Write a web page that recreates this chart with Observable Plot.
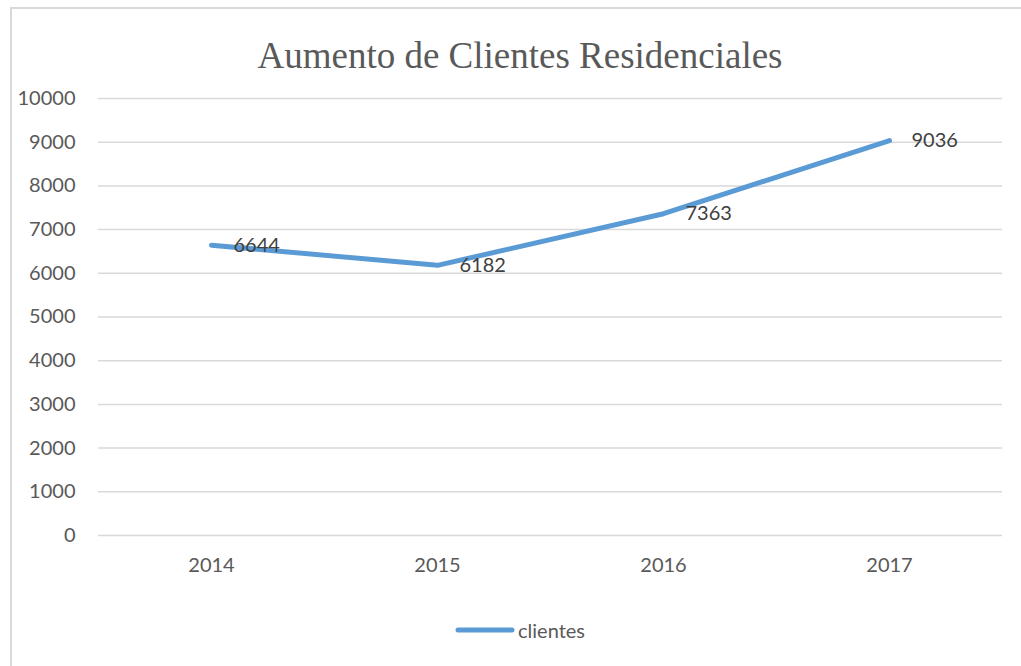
<!DOCTYPE html>
<html>
<head>
<meta charset="utf-8">
<script src="https://cdn.jsdelivr.net/npm/d3@7"></script>
<script src="https://cdn.jsdelivr.net/npm/@observablehq/plot@0.6"></script>
<style>
  html, body { margin: 0; padding: 0; background: #fff; overflow: hidden; }
  #wrap { position: relative; width: 1021px; height: 666px; overflow: hidden; }
  #frame { position: absolute; left: 10px; top: 7px; width: 1040px; height: 700px; border: 2px solid #d9d9d9; box-sizing: border-box; }
  #title { position: absolute; left: 0; width: 1040px; top: 37px; text-align: center; font-family: "Liberation Serif", serif; font-size: 37px; line-height: 37px; color: #595959; white-space: nowrap; }
  #legend { position: absolute; left: 455px; top: 618px; font-family: Lato, sans-serif; font-size: 20px; color: #595959; display: flex; align-items: center; }
  #legend svg { margin-right: 3px; }
  #chart { position: absolute; left: 0; top: 0; }
</style>
</head>
<body>
<div id="wrap">
  <div id="frame"></div>
  <div id="chart"></div>
  <div id="title">Aumento de Clientes Residenciales</div>
  <div id="legend"><svg width="60" height="10"><line x1="3" y1="5" x2="57" y2="5" stroke="#5B9BD5" stroke-width="5" stroke-linecap="round"/></svg><span>clientes</span></div>
</div>
<script>
const years = ["2014", "2015", "2016", "2017"];
const clientes = [6644, 6182, 7363, 9036];
const yTicks = [0, 1000, 2000, 3000, 4000, 5000, 6000, 7000, 8000, 9000, 10000];
const seriesName = "clientes";

const data = years.map((y, i) => ({year: y, value: clientes[i], series: seriesName}));

const chart = Plot.plot({
  width: 1021,
  height: 666,
  marginTop: 98,
  marginBottom: 131,
  marginLeft: 98,
  marginRight: 19,
  style: {fontFamily: "Lato, sans-serif", fontSize: "20px", color: "#595959", background: "transparent"},
  x: {type: "point", domain: years, padding: 0.5, align: 0.5, label: null},
  y: {domain: [0, 10000], label: null},
  marks: [
    Plot.gridY(yTicks, {stroke: "#d9d9d9", strokeOpacity: 1, strokeWidth: 1.5}),
    Plot.axisY(yTicks, {tickSize: 0, tickPadding: 23, fill: "#595959", fontSize: 20, label: null, tickFormat: d => String(d)}),
    Plot.axisX({tickSize: 0, tickPadding: 22, fill: "#595959", fontSize: 20, label: null}),
    Plot.line(data, {x: "year", y: "value", stroke: "#5B9BD5", strokeWidth: 5, strokeLinecap: "round", strokeLinejoin: "round"}),
    Plot.text(data, {x: "year", y: "value", text: d => String(d.value), textAnchor: "start", dx: 22, fill: "#404040", fontSize: 20})
  ]
});
document.getElementById("chart").appendChild(chart);
</script>
</body>
</html>
